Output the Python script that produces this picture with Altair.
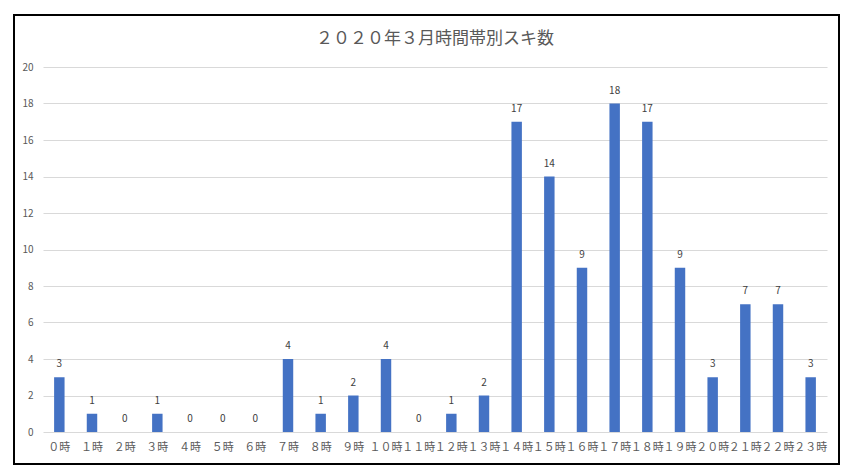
import altair as alt
import pandas as pd

hours = ["０時", "１時", "２時", "３時", "４時", "５時", "６時", "７時", "８時", "９時",
         "１０時", "１１時", "１２時", "１３時", "１４時", "１５時", "１６時", "１７時",
         "１８時", "１９時", "２０時", "２１時", "２２時", "２３時"]
counts = [3, 1, 0, 1, 0, 0, 0, 4, 1, 2, 4, 0, 1, 2, 17, 14, 9, 18, 17, 9, 3, 7, 7, 3]
y_ticks = [0, 2, 4, 6, 8, 10, 12, 14, 16, 18, 20]
title_text = "２０２０年３月時間帯別スキ数"

df = pd.DataFrame({"hour": hours, "count": counts})

FONT = "Noto Sans CJK JP"
GRAY = "#595959"

x = alt.X("hour:N", sort=hours, title=None,
          scale=alt.Scale(paddingInner=0.68, paddingOuter=0.34),
          axis=alt.Axis(labelAngle=0, labelOverlap=False, labelFontSize=11,
                        labelColor=GRAY, labelFont=FONT, ticks=False, domain=False,
                        labelPadding=9))
y = alt.Y("count:Q", title=None,
          scale=alt.Scale(domain=[0, 20], nice=False),
          axis=alt.Axis(values=y_ticks, tickCount=11, labelOverlap=False, labelFontSize=10,
                        labelColor=GRAY, labelFont=FONT, ticks=False, domain=False,
                        labelPadding=10, gridColor="#d9d9d9", gridWidth=1))

bars = alt.Chart(df).mark_bar(color="#4472C4").encode(x=x, y=y)
labels = alt.Chart(df).mark_text(dy=-8, fontSize=10, color="#404040", font=FONT,
                                 baseline="bottom").encode(x=x, y=y, text="count:Q")

border = alt.Chart(df).mark_rect(fill=None, stroke="black", strokeWidth=1.5).encode(
    x=alt.value(-29), x2=alt.value(796), y=alt.value(-52), y2=alt.value(397))

chart = alt.layer(bars, labels, border).properties(
    width=784, height=365,
    title=alt.TitleParams(title_text, fontSize=17, color=GRAY, font=FONT,
                          fontWeight="normal", anchor="middle", offset=20, dy=54),
    padding={"left": 35, "top": 59, "right": 14, "bottom": 36},
    autosize=alt.AutoSizeParams(type="none"),
).configure_view(stroke=None)

chart.save("out.html", embed_options={"renderer": "svg", "actions": False})
